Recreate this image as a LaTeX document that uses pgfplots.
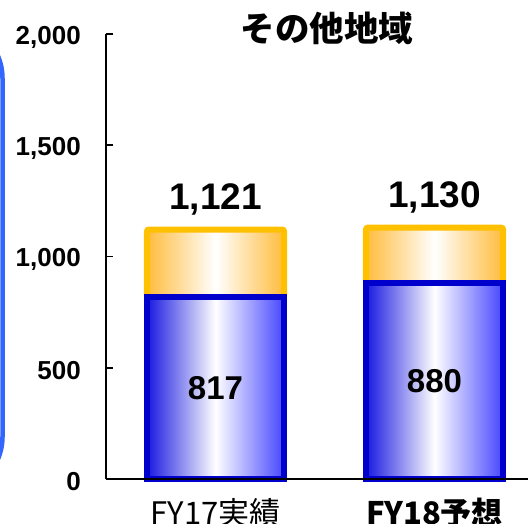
\documentclass[border=0pt]{standalone}
\usepackage{fontspec}
\setmainfont{Liberation Sans}
\newfontfamily\jpfont{Noto Sans CJK JP}
\usepackage{pgfplots}
\pgfplotsset{compat=1.18}
\definecolor{boxblue}{RGB}{51,102,255}
\definecolor{bdark}{RGB}{0,0,204}
\definecolor{bleft}{RGB}{25,25,225}
\definecolor{bright}{RGB}{70,70,255}
\definecolor{oborder}{RGB}{255,192,0}
\definecolor{ofill}{RGB}{255,188,60}
\pgfplotsset{
  myax/.style={
    at={(106bp,45bp)}, anchor=south west,
    scale only axis, width=425bp, height=445bp,
    xmin=-0.5, xmax=1.4406, ymin=0, ymax=2000,
    clip=false,
    ybar stacked, bar width=0.626,
  },
  blueb/.style={draw=bdark, line width=6bp, left color=bleft, right color=bright, middle color=white},
  orab/.style={draw=oborder, line width=6bp, rounded corners=2bp, left color=ofill, right color=ofill, middle color=white},
}
\begin{document}
\begin{tikzpicture}
\useasboundingbox (0bp,0bp) rectangle (528bp,524bp);
\clip (0bp,0bp) rectangle (528bp,524bp);
\draw[boxblue, line width=4.5bp, rounded corners=56bp] (-300bp,31bp) rectangle (2.5bp,502bp);
% second bar (FY18)
\begin{axis}[myax, hide axis]
\addplot[blueb] coordinates {(1,880)};
\addplot[orab] coordinates {(1,250)};
\end{axis}
% first bar (FY17) with the axes
\begin{axis}[myax,
  axis lines*=left,
  axis on top,
  ytick={0,500,1000,1500,2000},
  ytick align=inside, major tick length=7bp,
  xtick={0,1}, xticklabels={FY17実績,\bfseries FY18予想},
  xtick style={draw=none},
  axis line style={line width=1.6bp, black},
  ytick style={line width=1.6bp, black},
  scaled ticks=false,
  /pgf/number format/assume math mode=true,
  /pgf/number format/1000 sep={,},
  yticklabel style={font=\fontsize{26bp}{26bp}\selectfont\bfseries, inner sep=0pt, anchor=east, xshift=-25bp, yshift=-3bp},
  xticklabel style={font=\fontsize{31bp}{31bp}\selectfont\jpfont, inner sep=0pt, anchor=base, yshift=-45bp},
]
\addplot[blueb] coordinates {(0,817)};
\addplot[orab] coordinates {(0,304)};
\end{axis}
% value labels
\begin{axis}[myax, hide axis]
\node[font=\fontsize{37bp}{37bp}\selectfont\bfseries, anchor=base, yshift=19.6bp] at (axis cs:0,1121) {1,121};
\node[font=\fontsize{37bp}{37bp}\selectfont\bfseries, anchor=base, yshift=19.6bp] at (axis cs:1,1130) {1,130};
\node[font=\fontsize{33bp}{33bp}\selectfont\bfseries, anchor=center] at (axis cs:0,408.5) {817};
\node[font=\fontsize{33bp}{33bp}\selectfont\bfseries, anchor=center] at (axis cs:1,440) {880};
\end{axis}
\node[font={\fontsize{34.5bp}{36bp}\selectfont\jpfont\bfseries}] at (327bp,496bp) {その他地域};
\end{tikzpicture}
\end{document}
